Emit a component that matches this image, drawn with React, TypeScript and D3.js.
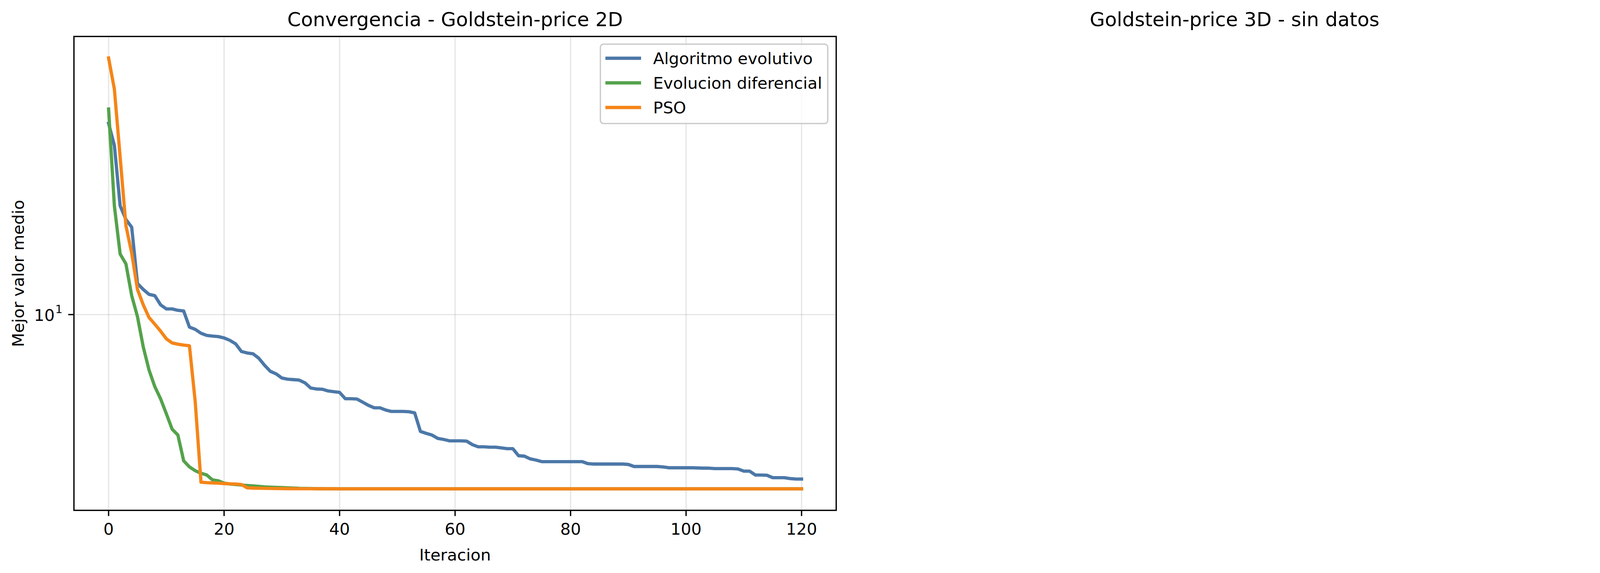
import React from "react";
import * as d3 from "d3";

const WIDTH = 4166;
const HEIGHT = 1466;

const iterations: number[] = Array.from({ length: 121 }, (_, i) => i);

const seriesNames = ["Algoritmo evolutivo", "Evolucion diferencial", "PSO"];
const seriesColors = ["#4C78A8", "#54A24B", "#F58518"];

const evolutivo: number[] = [
  37.5, 32.2, 21.2, 19.3, 18.3, 12.4, 11.9, 11.5, 11.4, 10.7,
  10.4, 10.4, 10.3, 10.25, 9.17, 9.03, 8.79, 8.66, 8.62, 8.59,
  8.51, 8.37, 8.17, 7.75, 7.67, 7.63, 7.4, 7.05, 6.76, 6.64,
  6.45, 6.4, 6.38, 6.36, 6.24, 6.02, 5.98, 5.97, 5.9, 5.87,
  5.84, 5.59, 5.59, 5.58, 5.46, 5.34, 5.25, 5.25, 5.17, 5.12,
  5.12, 5.12, 5.11, 5.07, 4.46, 4.4, 4.35, 4.25, 4.22, 4.18,
  4.18, 4.18, 4.17, 4.07, 4.01, 4.01, 4.0, 4.0, 3.98, 3.96,
  3.96, 3.77, 3.76, 3.69, 3.66, 3.62, 3.62, 3.62, 3.62, 3.62,
  3.62, 3.62, 3.62, 3.57, 3.56, 3.56, 3.56, 3.56, 3.56, 3.56,
  3.55, 3.5, 3.5, 3.5, 3.5, 3.5, 3.49, 3.47, 3.47, 3.47,
  3.47, 3.47, 3.465, 3.46, 3.46, 3.45, 3.45, 3.45, 3.45, 3.44,
  3.39, 3.39, 3.3, 3.3, 3.295, 3.24, 3.24, 3.24, 3.22, 3.21,
  3.21,
];

const diferencial: number[] = [
  41.4, 21.2, 15.2, 14.2, 11.4, 9.86, 8.0, 6.82, 6.08, 5.59,
  5.04, 4.53, 4.35, 3.64, 3.49, 3.4, 3.34, 3.3, 3.19, 3.17,
  3.12, 3.1, 3.09, 3.08, 3.07, 3.06, 3.05, 3.04, 3.035, 3.03,
  3.025, 3.02, 3.015, 3.01, 3.008, 3.006, 3.004, 3.003, 3.002, 3.001,
  3.0, 3.0, 3.0, 3.0, 3.0, 3.0, 3.0, 3.0, 3.0, 3.0,
  3.0, 3.0, 3.0, 3.0, 3.0, 3.0, 3.0, 3.0, 3.0, 3.0,
  3.0, 3.0, 3.0, 3.0, 3.0, 3.0, 3.0, 3.0, 3.0, 3.0,
  3.0, 3.0, 3.0, 3.0, 3.0, 3.0, 3.0, 3.0, 3.0, 3.0,
  3.0, 3.0, 3.0, 3.0, 3.0, 3.0, 3.0, 3.0, 3.0, 3.0,
  3.0, 3.0, 3.0, 3.0, 3.0, 3.0, 3.0, 3.0, 3.0, 3.0,
  3.0, 3.0, 3.0, 3.0, 3.0, 3.0, 3.0, 3.0, 3.0, 3.0,
  3.0, 3.0, 3.0, 3.0, 3.0, 3.0, 3.0, 3.0, 3.0, 3.0,
  3.0,
];

const pso: number[] = [
  58.9, 47.5, 29.7, 18.5, 15.3, 11.9, 10.7, 9.8, 9.36, 8.92,
  8.46, 8.22, 8.15, 8.1, 8.06, 5.48, 3.14, 3.13, 3.125, 3.12,
  3.11, 3.105, 3.1, 3.09, 3.02, 3.015, 3.012, 3.01, 3.008, 3.006,
  3.005, 3.003, 3.003, 3.002, 3.002, 3.002, 3.001, 3.001, 3.001, 3.001,
  3.0, 3.0, 3.0, 3.0, 3.0, 3.0, 3.0, 3.0, 3.0, 3.0,
  3.0, 3.0, 3.0, 3.0, 3.0, 3.0, 3.0, 3.0, 3.0, 3.0,
  3.0, 3.0, 3.0, 3.0, 3.0, 3.0, 3.0, 3.0, 3.0, 3.0,
  3.0, 3.0, 3.0, 3.0, 3.0, 3.0, 3.0, 3.0, 3.0, 3.0,
  3.0, 3.0, 3.0, 3.0, 3.0, 3.0, 3.0, 3.0, 3.0, 3.0,
  3.0, 3.0, 3.0, 3.0, 3.0, 3.0, 3.0, 3.0, 3.0, 3.0,
  3.0, 3.0, 3.0, 3.0, 3.0, 3.0, 3.0, 3.0, 3.0, 3.0,
  3.0, 3.0, 3.0, 3.0, 3.0, 3.0, 3.0, 3.0, 3.0, 3.0,
  3.0,
];

const xTicks: number[] = [0, 20, 40, 60, 80, 100, 120];
const yTickBase = "10";
const yTickExp = "1";
const yTickValue = 10;

const titleLeft = "Convergencia - Goldstein-price 2D";
const titleRight = "Goldstein-price 3D - sin datos";
const xLabel = "Iteracion";
const yLabel = "Mejor valor medio";

const FONT = "DejaVu Sans, Liberation Sans, sans-serif";

export default function App() {
  const ax = { left: 189.3, right: 2140.7, top: 93.3, bottom: 1305.7 };
  const allSeries = [evolutivo, diferencial, pso];

  const xMin = d3.min(iterations)!;
  const xMax = d3.max(iterations)!;
  const xPad = (xMax - xMin) * 0.05;
  const x = d3
    .scaleLinear()
    .domain([xMin - xPad, xMax + xPad])
    .range([ax.left, ax.right]);

  const allVals = allSeries.flat();
  const lMin = Math.log10(d3.min(allVals)!);
  const lMax = Math.log10(d3.max(allVals)!);
  const lPad = (lMax - lMin) * 0.05;
  const y = d3
    .scaleLog()
    .domain([Math.pow(10, lMin - lPad), Math.pow(10, lMax + lPad)])
    .range([ax.bottom, ax.top]);

  const line = d3
    .line<number>()
    .x((_, i) => x(iterations[i]))
    .y((d) => y(d));

  const tickLen = 14.6;
  const spineW = 3.33;
  const lw = 8.33;
  const yTickY = y(yTickValue);

  const legend = { x: 1537, y: 113, w: 582, h: 203 };
  const legendRows = [149, 212, 275];

  return (
    <svg
      width={WIDTH}
      height={HEIGHT}
      viewBox={`0 0 ${WIDTH} ${HEIGHT}`}
      style={{ position: "absolute", left: 0, top: 0, display: "block", background: "#fff" }}
      fontFamily={FONT}
    >
      <rect x={0} y={0} width={WIDTH} height={HEIGHT} fill="#ffffff" />
      <defs>
        <clipPath id="axclip">
          <rect x={ax.left} y={ax.top} width={ax.right - ax.left} height={ax.bottom - ax.top} />
        </clipPath>
      </defs>

      {/* grid */}
      <g stroke="#b0b0b0" strokeOpacity={0.3} strokeWidth={3.33}>
        {xTicks.map((t) => (
          <line key={t} x1={x(t)} x2={x(t)} y1={ax.top} y2={ax.bottom} />
        ))}
        <line x1={ax.left} x2={ax.right} y1={yTickY} y2={yTickY} />
      </g>

      {/* lines */}
      <g clipPath="url(#axclip)" fill="none" strokeWidth={lw} strokeLinecap="square" strokeLinejoin="round">
        {allSeries.map((s, k) => (
          <path key={k} d={line(s) || ""} stroke={seriesColors[k]} />
        ))}
      </g>

      {/* spines */}
      <rect
        x={ax.left}
        y={ax.top}
        width={ax.right - ax.left}
        height={ax.bottom - ax.top}
        fill="none"
        stroke="#000"
        strokeWidth={spineW}
        strokeLinejoin="miter"
      />

      {/* x ticks */}
      <g>
        {xTicks.map((t) => (
          <g key={t}>
            <line x1={x(t)} x2={x(t)} y1={ax.bottom} y2={ax.bottom + tickLen} stroke="#000" strokeWidth={spineW} />
            <text x={x(t)} y={1368.3} fontSize={41.7} textAnchor="middle" fill="#000">
              {t}
            </text>
          </g>
        ))}
      </g>

      {/* y tick */}
      <line x1={ax.left - tickLen} x2={ax.left} y1={yTickY} y2={yTickY} stroke="#000" strokeWidth={spineW} />
      <text x={140} y={yTickY + 16.5} fontSize={41.7} textAnchor="end" fill="#000">
        {yTickBase}
      </text>
      <text x={160} y={yTickY - 3.5} fontSize={29.2} textAnchor="end" fill="#000">
        {yTickExp}
      </text>

      {/* labels */}
      <text x={(ax.left + ax.right) / 2} y={1434} fontSize={41.7} textAnchor="middle" fill="#000">
        {xLabel}
      </text>
      <text
        transform={`translate(61, ${(ax.top + ax.bottom) / 2}) rotate(-90)`}
        fontSize={41.7}
        textAnchor="middle"
        fill="#000"
      >
        {yLabel}
      </text>
      <text x={(ax.left + ax.right) / 2} y={66.7} fontSize={50} textAnchor="middle" fill="#000">
        {titleLeft}
      </text>
      <text x={3160.5} y={66.7} fontSize={50} textAnchor="middle" fill="#000">
        {titleRight}
      </text>

      {/* legend */}
      <rect
        x={legend.x}
        y={legend.y}
        width={legend.w}
        height={legend.h}
        rx={8}
        ry={8}
        fill="#ffffff"
        fillOpacity={0.8}
        stroke="#cccccc"
        strokeWidth={3.5}
      />
      {seriesNames.map((name, k) => (
        <g key={name}>
          <line
            x1={1554}
            x2={1637}
            y1={legendRows[k]}
            y2={legendRows[k]}
            stroke={seriesColors[k]}
            strokeWidth={lw}
            strokeLinecap="square"
          />
          <text x={1672} y={legendRows[k] + 14.5} fontSize={41.7} fill="#000">
            {name}
          </text>
        </g>
      ))}
    </svg>
  );
}
